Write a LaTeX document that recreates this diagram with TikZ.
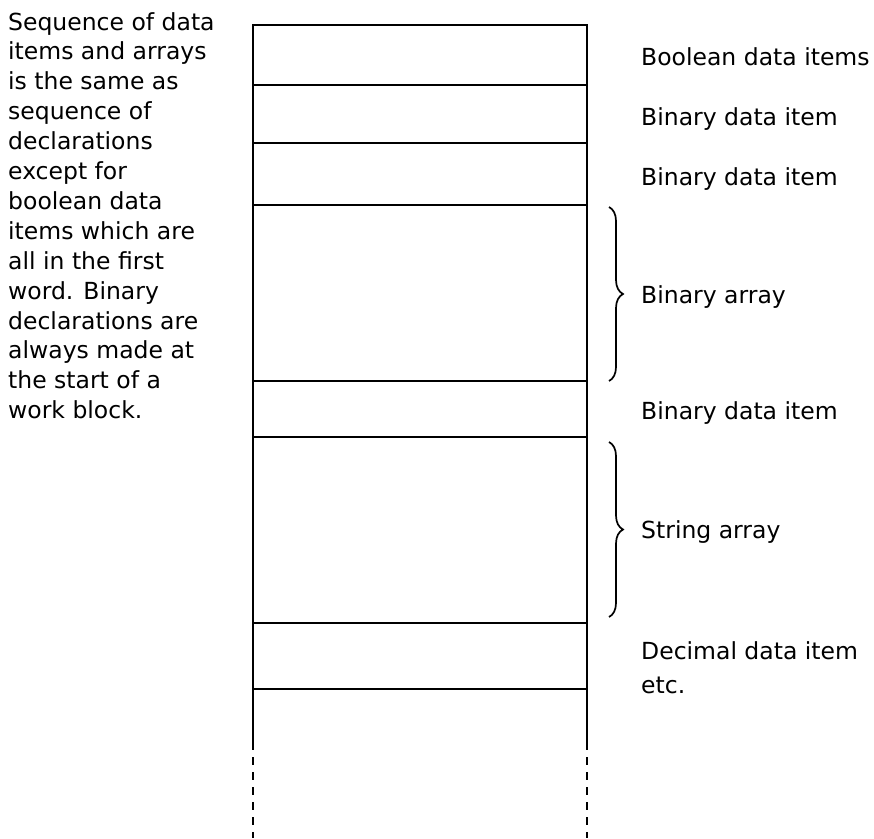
\documentclass[tikz,border=0pt]{standalone}
\usepackage{fontspec}
\setmainfont{DejaVu Sans}
\usetikzlibrary{decorations.pathreplacing}
\begin{document}
\begin{tikzpicture}[x=1pt,y=-1pt,
  col/.style={line width=2.2pt},
  dash col/.style={line width=2.2pt, dash pattern=on 8pt off 7pt},
  lbl/.style={anchor=base west, inner sep=0pt, font=\fontsize{23.5}{30}\selectfont},
  note/.style={anchor=north west, inner sep=0pt, align=left, font=\fontsize{23.5}{29.9}\selectfont},
  brc/.style={line width=1.7pt, decorate, decoration={brace, amplitude=14pt}}]
\useasboundingbox (0,0) rectangle (874,838);
% column outline
\coordinate (tl) at (253,25);
\coordinate (tr) at (587,25);
\coordinate (bl) at (253,742);
\coordinate (br) at (587,742);
\coordinate (el) at (253,838);
\coordinate (er) at (587,838);
\draw[col] (bl) -- (tl) -- (tr) -- (br);
\draw[dash col] (bl) -- (el);
\draw[dash col] (br) -- (er);
% row separators
\foreach \y/\n in {85/a,143/b,205/c,381/d,437/e,623/f,689/g}{
  \coordinate (l\n) at (253,\y);
  \coordinate (r\n) at (587,\y);
  \draw[col] (l\n) -- (r\n);
}
% braces
\coordinate (b1t) at (609,207);
\coordinate (b1b) at (609,381);
\coordinate (b2t) at (609,442);
\coordinate (b2b) at (609,617);
\draw[brc] (b1t) -- (b1b);
\draw[brc] (b2t) -- (b2b);
% labels
\node[lbl] (t1) at (641,65) {Boolean data items};
\node[lbl] (t2) at (641,125) {Binary data item};
\node[lbl] (t3) at (641,185) {Binary data item};
\node[lbl] (t4) at (641,303) {Binary array};
\node[lbl] (t5) at (641,419) {Binary data item};
\node[lbl] (t6) at (641,538) {String array};
\node[lbl] (t7) at (641,659) {Decimal data item};
\node[lbl] (t8) at (641,693) {etc.};
\node[note] (n) at (8,12) {Sequence of data\\items and arrays\\is the same as\\sequence of\\declarations\\except for\\boolean data\\items which are\\all in the first\\word. Binary\\declarations are\\always made at\\the start of a\\work block.};
\end{tikzpicture}
\end{document}
